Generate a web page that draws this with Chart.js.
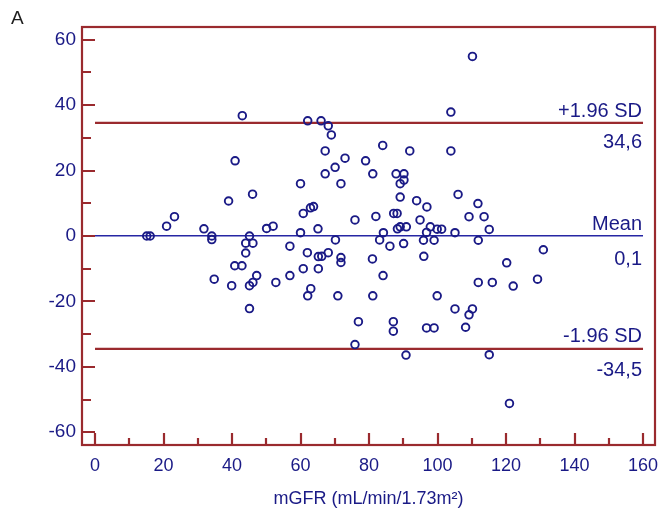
<!DOCTYPE html>
<html><head><meta charset="utf-8">
<script src="https://cdn.jsdelivr.net/npm/chart.js@4"></script>
<style>html,body{margin:0;padding:0;background:#fff;}canvas{display:block;}</style>
</head><body>
<canvas id="c" width="665" height="516"></canvas>
<script>
// ---------- data ----------
const panelLabel = 'A';
const xAxisTitle = 'mGFR (mL/min/1.73m²)';
const xTickValues = [0, 20, 40, 60, 80, 100, 120, 140, 160];
const xMinorTickValues = [10, 30, 50, 70, 90, 110, 130, 150];
const yTickValues = [-60, -40, -20, 0, 20, 40, 60];
const yMinorTickValues = [-50, -30, -10, 10, 30, 50];

const mGFR = [15.1,16.1,20.9,23.2,31.8,34.1,34.1,34.8,39.0,39.9,40.8,40.9,43.0,42.9,44.0,44.0,45.1,45.1,45.1,46.0,
  46.1,46.1,47.2,50.1,52.0,52.8,56.9,56.9,60.0,60.0,60.8,60.8,62.1,62.0,62.1,62.9,63.0,63.8,65.1,65.2,
  66.2,65.2,66.0,67.2,67.2,68.1,68.1,69.0,70.1,70.2,70.9,71.8,71.8,71.8,73.0,75.9,75.9,76.9,79.0,81.1,
  81.0,81.1,82.0,83.1,84.0,84.2,84.1,86.1,87.2,87.1,87.1,87.9,88.2,88.3,89.1,89.1,89.1,90.2,90.2,90.1,
  90.9,90.8,91.9,93.9,94.9,95.9,96.0,96.8,96.8,96.9,97.9,99.0,99.0,99.9,99.9,101.2,103.9,103.9,105.1,105.1,
  106.0,108.2,109.2,109.2,110.2,110.2,111.8,111.9,111.9,113.6,115.1,115.1,116.0,120.2,121.0,122.1,129.2,130.9];
const difference = [0,0,3.0,5.9,2.2,0,-1.1,-13.2,10.7,-15.2,-9.1,23.0,36.8,-9.1,-2.2,-5.2,0,-15.2,-22.2,12.8,
  -2.2,-14.2,-12.1,2.3,3.0,-14.2,-3.1,-12.1,16.0,1.0,6.9,-10.0,35.2,-5.1,-18.3,8.6,-16.1,9.0,2.2,-6.3,
  -6.2,-10.0,35.2,26.0,19.0,33.7,-5.1,30.9,21.0,-1.2,-18.3,16.0,-6.6,-8.1,23.8,4.9,-33.2,-26.2,23.0,19.0,
  -7.0,-18.3,6.0,-1.2,27.7,1.0,-12.1,-3.1,6.9,-26.2,-29.1,19.0,6.9,2.2,2.8,16.0,11.9,19.0,17.1,-2.3,
  2.8,-36.4,26.0,10.8,4.9,-1.3,-6.2,1.1,-28.1,8.9,2.8,-1.3,-28.1,2.1,-18.3,2.1,37.9,26.0,1.0,-22.3,
  12.7,-27.9,5.9,-24.1,54.9,-22.3,9.9,-1.3,-14.2,5.9,2.0,-36.3,-14.2,-8.2,-51.2,-15.3,-13.2,-4.2];

const limitNames = ['+1.96 SD', 'Mean', '-1.96 SD'];
const limitValues = [34.6, 0.1, -34.5];
const limitValueLabels = ['34,6', '0,1', '-34,5'];
const limitLineRange = [0, 160];

// ---------- style ----------
const FONT = '"Liberation Sans", Arial, sans-serif';
const NAVY = '#1a1a86';
const DARKRED = '#9a2a2e';
const MEANBLUE = '#2626a4';
const limitColors = [DARKRED, MEANBLUE, DARKRED];
const limitWidths = [2.2, 1.5, 2.2];
const aboveOffset = [6, 5.5, 6.5];
const belowOffset = [25, 29, 27];

const points = mGFR.map((v, i) => ({x: v, y: difference[i]}));
const limitDatasets = limitValues.map((v, i) => ({
  type: 'line',
  data: limitLineRange.map(xv => ({x: xv, y: v})),
  borderColor: limitColors[i],
  borderWidth: limitWidths[i],
  pointRadius: 0,
  showLine: true,
  fill: false,
  tension: 0,
  order: 2
}));

const overlay = {
  id: 'overlay',
  afterDatasetsDraw(chart) {
    const {ctx, scales: {x, y}} = chart;
    ctx.save();
    ctx.font = '20px ' + FONT;
    ctx.fillStyle = NAVY;
    ctx.textAlign = 'right';
    ctx.textBaseline = 'alphabetic';
    const xr = x.getPixelForValue(limitLineRange[1]) - 1;
    limitValues.forEach((v, i) => {
      const py = y.getPixelForValue(v);
      ctx.fillText(limitNames[i], xr, py - aboveOffset[i]);
      ctx.fillText(limitValueLabels[i], xr, py + belowOffset[i]);
    });
    ctx.restore();
  },
  afterDraw(chart) {
    const {ctx, chartArea: a, scales: {x, y}} = chart;
    ctx.save();
    ctx.strokeStyle = DARKRED;
    ctx.lineWidth = 2.2;
    ctx.strokeRect(a.left, a.top, a.right - a.left, a.bottom - a.top);
    ctx.beginPath();
    yTickValues.forEach(v => { const p = Math.round(y.getPixelForValue(v)); ctx.moveTo(a.left, p); ctx.lineTo(a.left + 13, p); });
    yMinorTickValues.forEach(v => { const p = Math.round(y.getPixelForValue(v)); ctx.moveTo(a.left, p); ctx.lineTo(a.left + 9, p); });
    xTickValues.forEach(v => { const p = Math.round(x.getPixelForValue(v)); ctx.moveTo(p, a.bottom); ctx.lineTo(p, a.bottom - 12); });
    xMinorTickValues.forEach(v => { const p = Math.round(x.getPixelForValue(v)); ctx.moveTo(p, a.bottom); ctx.lineTo(p, a.bottom - 7); });
    ctx.stroke();
    ctx.fillStyle = '#1e1e1e';
    ctx.font = '19px ' + FONT;
    ctx.textAlign = 'left';
    ctx.textBaseline = 'alphabetic';
    ctx.fillText(panelLabel, 11, 23.5);
    ctx.restore();
  }
};

new Chart(document.getElementById('c'), {
  type: 'scatter',
  data: {
    datasets: [
      {
        data: points,
        pointStyle: 'circle',
        pointRadius: 3.8,
        pointBorderWidth: 1.9,
        borderColor: NAVY,
        backgroundColor: 'rgba(255,255,255,0)',
        pointHoverRadius: 3.8,
        order: 1
      },
      ...limitDatasets
    ]
  },
  options: {
    responsive: false,
    animation: false,
    devicePixelRatio: 1,
    layout: {padding: {left: 0, top: 27, right: 10, bottom: 0}},
    plugins: {legend: {display: false}, tooltip: {enabled: false}},
    scales: {
      x: {
        type: 'linear',
        min: -3.8,
        max: 163.5,
        grid: {display: false, drawTicks: false},
        border: {display: false},
        afterBuildTicks: s => { s.ticks = xTickValues.map(v => ({value: v})); },
        afterFit: s => { s.height = 71; s.paddingLeft = 0; s.paddingRight = 0; },
        ticks: {color: NAVY, font: {family: FONT, size: 18}, padding: 10, maxRotation: 0, autoSkip: false},
        title: {display: true, text: xAxisTitle, color: NAVY, font: {family: FONT, size: 18}, padding: {top: 0, bottom: 6}}
      },
      y: {
        type: 'linear',
        min: -63.9,
        max: 63.9,
        grid: {display: false, drawTicks: false},
        border: {display: false},
        afterBuildTicks: s => { s.ticks = yTickValues.map(v => ({value: v})); },
        afterFit: s => { s.width = 82; s.paddingTop = 0; s.paddingBottom = 0; },
        ticks: {color: NAVY, font: {family: FONT, size: 19}, padding: 6, autoSkip: false}
      }
    }
  },
  plugins: [overlay]
});
</script>
</body></html>
